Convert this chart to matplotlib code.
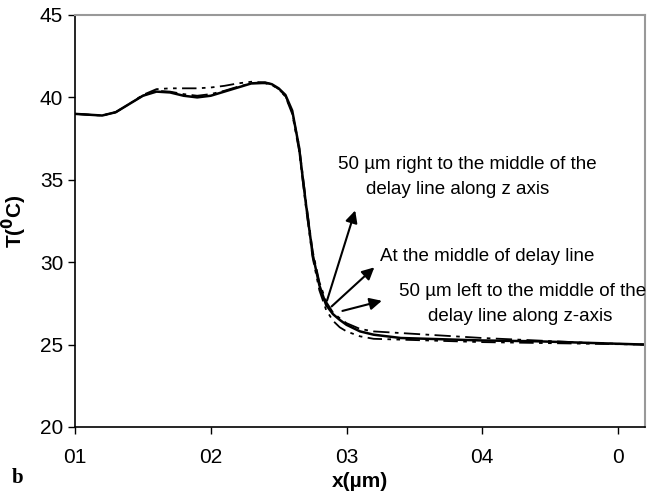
import matplotlib
matplotlib.use("Agg")
import matplotlib.pyplot as plt

plt.rcParams['font.family'] = ['Liberation Sans', 'DejaVu Sans']

# données
x_mid = [1.0, 1.1, 1.2, 1.3, 1.4, 1.5, 1.6, 1.7, 1.8, 1.9, 2.0, 2.1, 2.2, 2.3,
         2.4, 2.45, 2.5, 2.55, 2.6, 2.65, 2.7, 2.75, 2.8, 2.85, 2.9, 2.95, 3.0,
         3.1, 3.2, 3.4, 3.6, 3.8, 4.0, 4.4, 4.8, 5.2]
t_mid = [39.0, 38.95, 38.9, 39.1, 39.6, 40.1, 40.35, 40.3, 40.1, 40.0, 40.1,
         40.35, 40.6, 40.85, 40.9, 40.8, 40.55, 40.15, 39.2, 37.0, 33.6, 30.5,
         28.6, 27.4, 26.85, 26.5, 26.2, 25.8, 25.6, 25.4, 25.35, 25.3, 25.25,
         25.2, 25.1, 25.0]

x_right = [1.0, 1.1, 1.2, 1.3, 1.4, 1.5, 1.6, 1.7, 1.8, 1.9, 2.0, 2.1, 2.2, 2.3,
           2.4, 2.45, 2.5, 2.55, 2.6, 2.65, 2.7, 2.75, 2.8, 2.85, 2.9, 2.95, 3.0,
           3.1, 3.2, 3.4, 3.6, 3.8, 4.0, 4.4, 4.8, 5.2]
t_right = [39.0, 38.95, 38.9, 39.1, 39.6, 40.15, 40.5, 40.55, 40.55, 40.55, 40.6,
           40.7, 40.85, 40.95, 40.9, 40.8, 40.5, 40.05, 39.0, 36.8, 33.4, 30.3,
           28.3, 27.1, 26.45, 26.05, 25.8, 25.5, 25.35, 25.3, 25.25, 25.2, 25.15,
           25.1, 25.05, 25.0]

x_left = [1.0, 1.1, 1.2, 1.3, 1.4, 1.5, 1.6, 1.7, 1.8, 1.9, 2.0, 2.1, 2.2, 2.3,
          2.4, 2.45, 2.5, 2.55, 2.6, 2.65, 2.7, 2.75, 2.8, 2.85, 2.9, 2.95, 3.0,
          3.1, 3.2, 3.4, 3.6, 3.8, 4.0, 4.4, 4.8, 5.2]
t_left = [39.0, 38.95, 38.9, 39.1, 39.6, 40.1, 40.4, 40.35, 40.2, 40.1, 40.2,
          40.4, 40.65, 40.85, 40.85, 40.75, 40.5, 40.1, 39.1, 37.1, 33.8, 30.7,
          28.8, 27.6, 26.95, 26.6, 26.3, 25.95, 25.8, 25.7, 25.6, 25.5, 25.4,
          25.25, 25.1, 25.0]

x_ticks = [1, 2, 3, 4, 5]
x_labels = ["01", "02", "03", "04", "0"]
y_ticks = [20, 25, 30, 35, 40, 45]

fig = plt.figure(figsize=(6.55, 4.98), dpi=100)
ax = fig.add_axes([0.1145, 0.1426, 0.8705, 0.8273])

ax.plot(x_right, t_right, color='black', lw=1.3, ls=(0, (8, 3, 2, 3, 2, 3)))
ax.plot(x_left, t_left, color='black', lw=1.3, ls=(0, (9, 3, 2, 3)))
ax.plot(x_mid, t_mid, color='black', lw=1.8)

ax.set_xlim(1, 5.2)
ax.set_ylim(20, 45)
ax.set_xticks(x_ticks)
ax.set_xticklabels(x_labels)
ax.set_yticks(y_ticks)
ax.tick_params(direction='out', length=5, labelsize=15, width=1)
ax.tick_params(axis='x', pad=10)

for s in ['top', 'right']:
    ax.spines[s].set_color('#999999')
    ax.spines[s].set_linewidth(1.5)
for s in ['left', 'bottom']:
    ax.spines[s].set_linewidth(1.2)

ax.set_xlabel('x(µm)', fontsize=15, fontweight='bold', labelpad=4)
ax.set_ylabel('T($\\mathbf{^{0}}$C)', fontsize=15, fontweight='bold', labelpad=8)

# flèches et légendes
arrow = dict(arrowstyle='-|>', color='black', lw=1.5, mutation_scale=18)
ax.annotate('', xy=(3.07, 33.3), xytext=(2.85, 27.5), arrowprops=arrow)
ax.annotate('', xy=(3.22, 29.8), xytext=(2.875, 27.2), arrowprops=arrow)
ax.annotate('', xy=(3.28, 27.7), xytext=(2.95, 27.0), arrowprops=arrow)

txt = dict(fontsize=13.5, ha='left', va='center', clip_on=False)
ax.text(2.94, 35.9, '50 µm right to the middle of the', **txt)
ax.text(3.145, 34.42, 'delay line along z axis', **txt)
ax.text(3.25, 30.33, 'At the middle of delay line', **txt)
ax.text(3.386, 28.21, '50 µm left to the middle of the', **txt)
ax.text(3.60, 26.69, 'delay line along z-axis', **txt)

fig.text(0.018, 0.03, 'b', fontsize=15, fontweight='bold', family='Liberation Serif')

fig.savefig('out.png', dpi=100)
